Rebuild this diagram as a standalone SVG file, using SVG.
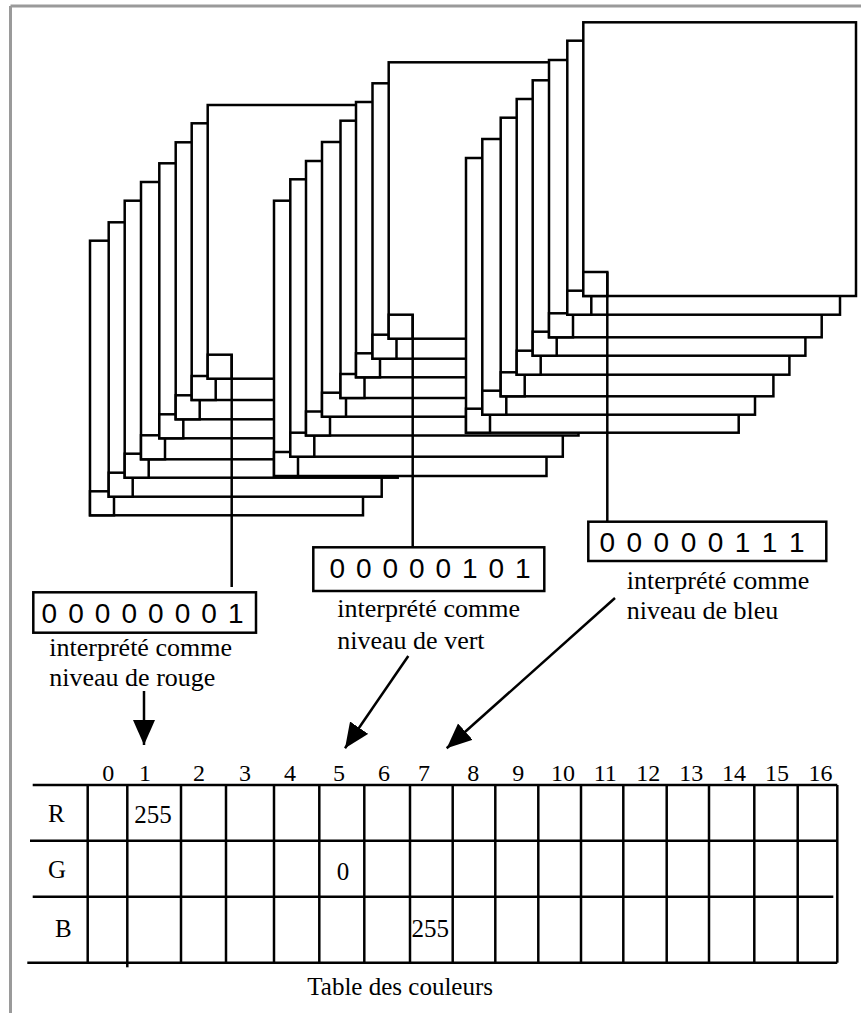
<svg xmlns="http://www.w3.org/2000/svg" width="861" height="1013" viewBox="0 0 861 1013">
<style>
.pl{fill:#fff;stroke:#000;stroke-width:2.5}
.ln{stroke:#000;stroke-width:2.5;fill:none}
.bits{font-family:"Liberation Sans",Arial,sans-serif;font-size:28px;fill:#000}
.lab{font-family:"Liberation Serif","Times New Roman",serif;font-size:26px;fill:#000}
.hd{font-family:"Liberation Serif","Times New Roman",serif;font-size:24px;fill:#000;text-anchor:middle}
.cell{font-family:"Liberation Serif","Times New Roman",serif;font-size:25px;fill:#000}
</style>
<defs>
<marker id="ah" markerUnits="userSpaceOnUse" markerWidth="26" markerHeight="24" refX="25" refY="11" orient="auto">
<path d="M0,0 L25,11 L0,22 z" fill="#000"/>
</marker>
</defs>
<rect width="861" height="1013" fill="#fff"/>
<g id="frame" stroke="#9a9a9a" stroke-width="3" fill="none">
<line x1="10.5" y1="6" x2="861" y2="6"/>
<line x1="10.5" y1="6" x2="10.5" y2="1013"/>
</g>
<g id="red-stack">
<rect class="pl" x="90" y="240.7" width="273" height="274.6"/><rect class="pl" x="90" y="491.3" width="24" height="24"/>
<rect class="pl" x="108.7" y="222.3" width="273" height="274.4"/><rect class="pl" x="108.7" y="472.7" width="24" height="24"/>
<rect class="pl" x="124.7" y="200.7" width="273" height="277"/><rect class="pl" x="124.7" y="453.7" width="24" height="24"/>
<rect class="pl" x="141" y="182" width="273" height="277.3"/><rect class="pl" x="141" y="435.3" width="24" height="24"/>
<rect class="pl" x="159.3" y="163.3" width="273" height="275"/><rect class="pl" x="159.3" y="414.3" width="24" height="24"/>
<rect class="pl" x="175.7" y="142.3" width="273" height="277"/><rect class="pl" x="175.7" y="395.3" width="24" height="24"/>
<rect class="pl" x="191.7" y="123.3" width="273" height="276.7"/><rect class="pl" x="191.7" y="376" width="24" height="24"/>
<rect class="pl" x="207.7" y="105" width="273" height="273.7"/><rect class="pl" x="207.7" y="354.7" width="24" height="24"/>
</g>
<g id="green-stack">
<rect class="pl" x="274" y="200.7" width="272.5" height="275.3"/><rect class="pl" x="274" y="452" width="24" height="24"/>
<rect class="pl" x="290.3" y="179.3" width="272.5" height="277.4"/><rect class="pl" x="290.3" y="432.7" width="24" height="24"/>
<rect class="pl" x="306" y="161" width="272.5" height="274.5"/><rect class="pl" x="306" y="411.5" width="24" height="24"/>
<rect class="pl" x="322" y="142" width="272.5" height="274.7"/><rect class="pl" x="322" y="392.7" width="24" height="24"/>
<rect class="pl" x="340.5" y="120.7" width="272.5" height="277.3"/><rect class="pl" x="340.5" y="374" width="24" height="24"/>
<rect class="pl" x="356" y="102" width="272.5" height="275.3"/><rect class="pl" x="356" y="353.3" width="24" height="24"/>
<rect class="pl" x="372.5" y="83.3" width="272.5" height="275.4"/><rect class="pl" x="372.5" y="334.7" width="24" height="24"/>
<rect class="pl" x="388.7" y="62.3" width="272.5" height="276.4"/><rect class="pl" x="388.7" y="314.7" width="24" height="24"/>
</g>
<g id="blue-stack">
<rect class="pl" x="466" y="158" width="272.7" height="274.7"/><rect class="pl" x="466" y="408.7" width="24" height="24"/>
<rect class="pl" x="482.3" y="139" width="272.7" height="275.7"/><rect class="pl" x="482.3" y="390.7" width="24" height="24"/>
<rect class="pl" x="500.7" y="117.7" width="272.7" height="278.6"/><rect class="pl" x="500.7" y="372.3" width="24" height="24"/>
<rect class="pl" x="516.7" y="99" width="272.7" height="275.7"/><rect class="pl" x="516.7" y="350.7" width="24" height="24"/>
<rect class="pl" x="532.7" y="80.3" width="272.7" height="275.4"/><rect class="pl" x="532.7" y="331.7" width="24" height="24"/>
<rect class="pl" x="549" y="60" width="272.7" height="277.3"/><rect class="pl" x="549" y="313.3" width="24" height="24"/>
<rect class="pl" x="567.3" y="40.7" width="272.7" height="274"/><rect class="pl" x="567.3" y="290.7" width="24" height="24"/>
<rect class="pl" x="583.3" y="22.3" width="272.7" height="273.7"/><rect class="pl" x="583.3" y="272" width="24" height="24"/>
</g>
<g id="connectors">
<line class="ln" x1="231.7" y1="354.7" x2="231.7" y2="587"/>
<line class="ln" x1="412.7" y1="314.7" x2="412.7" y2="547.3"/>
<line class="ln" x1="607.3" y1="272" x2="607.3" y2="521.7"/>
<line class="ln" x1="144" y1="691" x2="144" y2="745" marker-end="url(#ah)"/>
<line class="ln" x1="408.3" y1="656" x2="345" y2="748.3" marker-end="url(#ah)"/>
<line class="ln" x1="615" y1="598" x2="446.7" y2="748.3" marker-end="url(#ah)"/>
</g>
<g id="red-value">
<rect class="pl" x="33.3" y="592.3" width="222.7" height="40.4"/>
<text class="bits" x="41.5" y="623.3" textLength="202" lengthAdjust="spacing">0 0 0 0 0 0 0 1</text>
<text class="lab" x="49.3" y="655.5">interprété comme</text>
<text class="lab" x="49.3" y="685.5">niveau de rouge</text>
</g>
<g id="green-value">
<rect class="pl" x="313.3" y="547.3" width="231" height="43.7"/>
<text class="bits" x="329.5" y="578.3" textLength="201" lengthAdjust="spacing">0 0 0 0 0 1 0 1</text>
<text class="lab" x="337.3" y="617.3">interprété comme</text>
<text class="lab" x="337.3" y="649">niveau de vert</text>
</g>
<g id="blue-value">
<rect class="pl" x="588.3" y="521.7" width="238" height="39.3"/>
<text class="bits" x="599.5" y="551.7" textLength="205" lengthAdjust="spacing">0 0 0 0 0 1 1 1</text>
<text class="lab" x="626.7" y="589.3">interprété comme</text>
<text class="lab" x="626.7" y="619.3">niveau de bleu</text>
</g>
<g id="color-table">
<g class="ln">
<line x1="32.7" y1="785" x2="837.3" y2="785"/>
<line x1="30" y1="840.7" x2="837.3" y2="840.7"/>
<line x1="32.7" y1="896.7" x2="833.3" y2="896.7"/>
<line x1="27.3" y1="962.7" x2="837.3" y2="962.7"/>
<line x1="87.7" y1="785" x2="87.7" y2="962.7"/>
<line x1="127.3" y1="785" x2="127.3" y2="967.3"/>
<line x1="181" y1="785" x2="181" y2="962.7"/>
<line x1="226" y1="785" x2="226" y2="962.7"/>
<line x1="274" y1="785" x2="274" y2="962.7"/>
<line x1="319.3" y1="785" x2="319.3" y2="962.7"/>
<line x1="364.3" y1="785" x2="364.3" y2="962.7"/>
<line x1="410" y1="785" x2="410" y2="962.7"/>
<line x1="452.7" y1="785" x2="452.7" y2="962.7"/>
<line x1="495.3" y1="785" x2="495.3" y2="962.7"/>
<line x1="538.3" y1="785" x2="538.3" y2="962.7"/>
<line x1="581" y1="785" x2="581" y2="962.7"/>
<line x1="623.3" y1="785" x2="623.3" y2="962.7"/>
<line x1="666.7" y1="785" x2="666.7" y2="962.7"/>
<line x1="709" y1="785" x2="709" y2="962.7"/>
<line x1="754.3" y1="785" x2="754.3" y2="962.7"/>
<line x1="797.7" y1="785" x2="797.7" y2="962.7"/>
<line x1="837.3" y1="785" x2="837.3" y2="962.7"/>
</g>
<text class="hd" x="108.3" y="781">0</text>
<text class="hd" x="145" y="781">1</text>
<text class="hd" x="199" y="781">2</text>
<text class="hd" x="245" y="781">3</text>
<text class="hd" x="290" y="781">4</text>
<text class="hd" x="339" y="781">5</text>
<text class="hd" x="384" y="781">6</text>
<text class="hd" x="424" y="781">7</text>
<text class="hd" x="473.3" y="781">8</text>
<text class="hd" x="518.3" y="781">9</text>
<text class="hd" x="563" y="781">10</text>
<text class="hd" x="605.3" y="781">11</text>
<text class="hd" x="648.3" y="781">12</text>
<text class="hd" x="691.3" y="781">13</text>
<text class="hd" x="734" y="781">14</text>
<text class="hd" x="777" y="781">15</text>
<text class="hd" x="820.5" y="781">16</text>
<text class="cell" x="48" y="821.7">R</text>
<text class="cell" x="48" y="878.3">G</text>
<text class="cell" x="55" y="936.7">B</text>
<text class="cell" x="134.3" y="823.3">255</text>
<text class="cell" x="336.7" y="880">0</text>
<text class="cell" x="411.5" y="936.7">255</text>
<text class="cell" x="307.3" y="995">Table des couleurs</text>
</g>
</svg>
